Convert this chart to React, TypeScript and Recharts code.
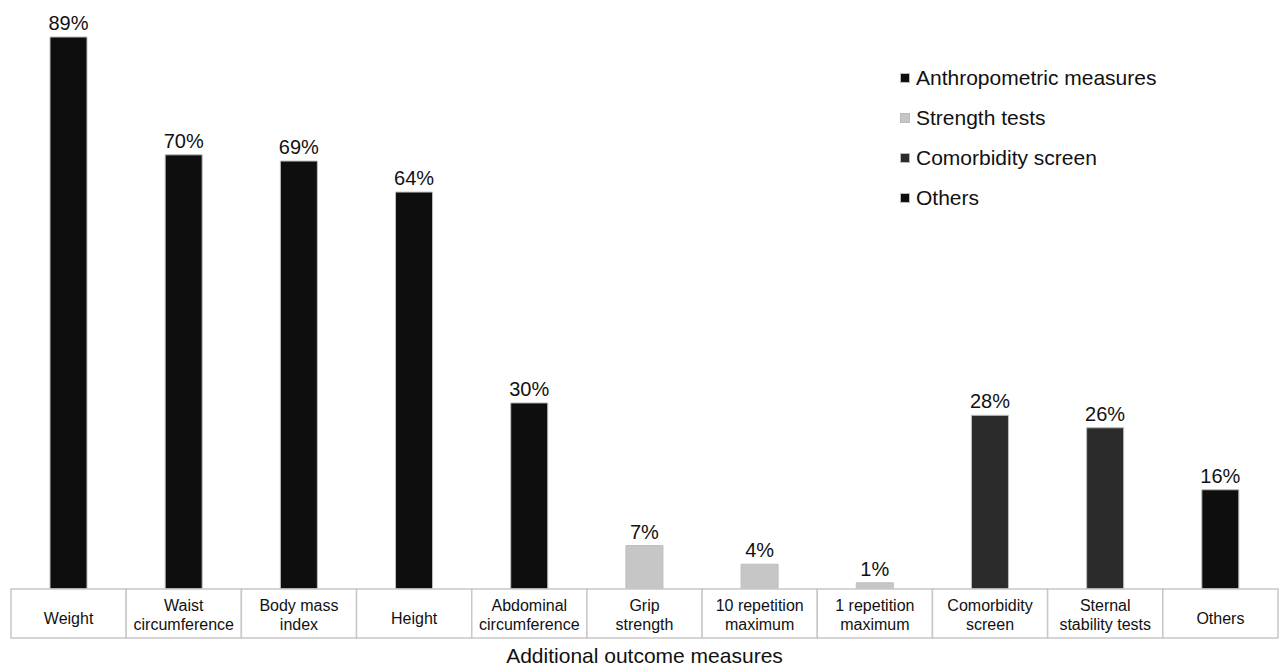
import React from 'react'
import { BarChart, Bar, XAxis, YAxis, Cell, LabelList, Label } from 'recharts'

const categories = [
  'Weight',
  'Waist\ncircumference',
  'Body mass\nindex',
  'Height',
  'Abdominal\ncircumference',
  'Grip\nstrength',
  '10 repetition\nmaximum',
  '1 repetition\nmaximum',
  'Comorbidity\nscreen',
  'Sternal\nstability tests',
  'Others',
]
const values = [89, 70, 69, 64, 30, 7, 4, 1, 28, 26, 16]
const groupOf = [0, 0, 0, 0, 0, 1, 1, 1, 2, 2, 3]

const groups = ['Anthropometric measures', 'Strength tests', 'Comorbidity screen', 'Others']
const GROUP_COLORS = ['#0e0e0e', '#c6c6c6', '#2b2b2b', '#0e0e0e']

const data = categories.map((c, i) => ({ name: c, value: values[i], group: groupOf[i] }))

const FONT = '"Liberation Sans", Arial, sans-serif'

function CellTick(props: any) {
  const { x, y, payload } = props
  const w = 1267 / categories.length
  const lines = String(payload.value).split('\n')
  const h = 49
  return (
    <g>
      <rect x={x - w / 2} y={y} width={w} height={h} fill="#fff" stroke="#c8c8c8" strokeWidth={1.5} />
      {lines.length === 1 ? (
        <text x={x} y={y + 35} textAnchor="middle" fontSize={16} fill="#111" fontFamily={FONT}>
          {lines[0]}
        </text>
      ) : (
        lines.map((l, i) => (
          <text key={i} x={x} y={y + 22 + i * 19} textAnchor="middle" fontSize={16} fill="#111" fontFamily={FONT}>
            {l}
          </text>
        ))
      )}
    </g>
  )
}

function GroupLegend() {
  return (
    <div
      style={{
        position: 'absolute',
        left: 900,
        top: 66,
        display: 'flex',
        flexDirection: 'column',
        gap: 16,
        fontFamily: FONT,
      }}
    >
      {groups.map((g, i) => (
        <div key={g} style={{ display: 'flex', alignItems: 'center', gap: 6, height: 24 }}>
          <div style={{ width: 8, height: 8, background: GROUP_COLORS[i], border: '1px solid #bbb' }} />
          <span style={{ fontSize: 21, color: '#111', whiteSpace: 'nowrap' }}>{g}</span>
        </div>
      ))}
    </div>
  )
}

export default function App() {
  return (
    <div style={{ position: 'absolute', left: 0, top: 0, width: 1284, height: 669, background: '#fff' }}>
      <BarChart
        width={1284}
        height={669}
        data={data}
        margin={{ top: 37, right: 6, left: 11, bottom: 0 }}
        barCategoryGap={0}
      >
        <XAxis
          dataKey="name"
          interval={0}
          height={80}
          tickSize={0}
          tickMargin={0}
          axisLine={false}
          tick={<CellTick />}
        >
          <Label
            value="Additional outcome measures"
            position="insideBottom"
            offset={6}
            style={{ fontSize: 21, fill: '#111', fontFamily: FONT }}
          />
        </XAxis>
        <YAxis hide domain={[0, 89]} />
        <Bar dataKey="value" barSize={37} stroke="#bdbdbd" strokeWidth={1} isAnimationActive={false}>
          {data.map((d, i) => (
            <Cell key={i} fill={GROUP_COLORS[d.group]} />
          ))}
          <LabelList
            dataKey="value"
            position="top"
            offset={7}
            formatter={(v: any) => `${v}%`}
            style={{ fontSize: 20, fill: '#111', fontFamily: FONT }}
          />
        </Bar>
      </BarChart>
      <GroupLegend />
    </div>
  )
}
